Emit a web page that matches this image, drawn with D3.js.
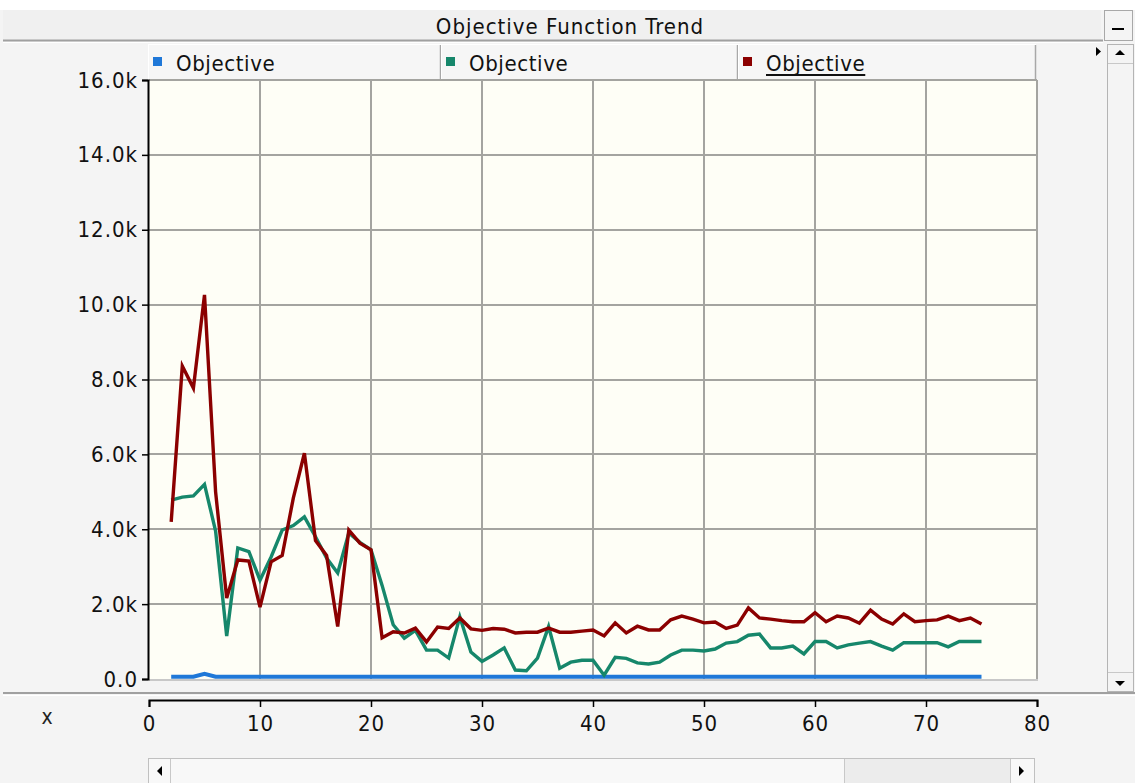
<!DOCTYPE html>
<html><head><meta charset="utf-8">
<script src="https://cdn.jsdelivr.net/npm/d3@7"></script>
<style>html,body{margin:0;padding:0;background:#f4f4f4;overflow:hidden}svg{display:block}</style>
</head><body><svg id="c" width="1135" height="783"></svg>
<script>
const chartTitle = "Objective Function Trend";
const xLabel = "x";
const seriesNames = ["Objective", "Objective", "Objective"];
const seriesColors = ["#1f78d8", "#16876b", "#8b0000"];
const xValues = [2,3,4,5,6,7,8,9,10,11,12,13,14,15,16,17,18,19,20,21,22,23,24,25,26,27,28,29,30,31,32,33,34,35,36,37,38,39,40,41,42,43,44,45,46,47,48,49,50,51,52,53,54,55,56,57,58,59,60,61,62,63,64,65,66,67,68,69,70,71,72,73,74,75];
// values in thousands
const blueValues = [0.06,0.06,0.06,0.14,0.06,0.06,0.06,0.06,0.06,0.06,0.06,0.06,0.06,0.06,0.06,0.06,0.06,0.06,0.06,0.06,0.06,0.06,0.06,0.06,0.06,0.06,0.06,0.06,0.06,0.06,0.06,0.06,0.06,0.06,0.06,0.06,0.06,0.06,0.06,0.06,0.06,0.06,0.06,0.06,0.06,0.06,0.06,0.06,0.06,0.06,0.06,0.06,0.06,0.06,0.06,0.06,0.06,0.06,0.06,0.06,0.06,0.06,0.06,0.06,0.06,0.06,0.06,0.06,0.06,0.06,0.06,0.06,0.06,0.06];
const greenValues = [4.78,4.86,4.89,5.2,3.95,1.15,3.5,3.4,2.64,3.26,3.98,4.1,4.33,3.8,3.23,2.83,3.9,3.65,3.45,2.5,1.45,1.09,1.3,0.77,0.77,0.56,1.66,0.72,0.47,0.64,0.83,0.24,0.22,0.56,1.4,0.29,0.45,0.5,0.5,0.1,0.58,0.55,0.43,0.4,0.45,0.64,0.77,0.77,0.75,0.8,0.96,1.0,1.17,1.2,0.83,0.83,0.88,0.67,1.0,1.0,0.83,0.91,0.96,1.0,0.88,0.77,0.97,0.97,0.97,0.97,0.86,1.0,1.0,1.0];
const redValues = [4.2,8.36,7.77,10.26,5.0,2.16,3.18,3.15,1.92,3.13,3.3,4.83,6.03,3.7,3.3,1.4,3.98,3.63,3.45,1.1,1.26,1.23,1.36,0.99,1.39,1.35,1.63,1.34,1.3,1.35,1.33,1.23,1.25,1.25,1.36,1.25,1.25,1.28,1.31,1.15,1.5,1.23,1.41,1.31,1.31,1.58,1.68,1.6,1.5,1.52,1.35,1.44,1.9,1.63,1.6,1.56,1.53,1.53,1.77,1.53,1.68,1.63,1.49,1.84,1.6,1.47,1.74,1.53,1.56,1.58,1.68,1.56,1.63,1.47];
const yTicks = [0,2,4,6,8,10,12,14,16];
const yTickLabels = ["0.0","2.0k","4.0k","6.0k","8.0k","10.0k","12.0k","14.0k","16.0k"];
const xTicks = [0,10,20,30,40,50,60,70,80];

const FONT = "'DejaVu Sans Condensed','DejaVu Sans',sans-serif";
const svg = d3.select("#c");
const W = 1135, H = 783;
const L = 149, R = 1037, T = 80, B = 679;

const x = d3.scaleLinear().domain([0, 80]).range([L, R]);
const y = d3.scaleLinear().domain([0, 16]).range([B, T]);

// backgrounds
svg.append("rect").attr("width", W).attr("height", H).attr("fill", "#f4f4f4");
svg.append("rect").attr("width", W).attr("height", 10).attr("fill", "#ffffff");

// title bar
svg.append("rect").attr("x", 3).attr("y", 10).attr("width", 1098).attr("height", 30).attr("fill", "#f0f0f0");
svg.append("line").attr("x1", 3).attr("x2", 1103).attr("y1", 40.5).attr("y2", 40.5).attr("stroke", "#a0a0a0").attr("stroke-width", 2);
svg.append("line").attr("x1", 3).attr("x2", 1103).attr("y1", 42.5).attr("y2", 42.5).attr("stroke", "#ffffff").attr("stroke-width", 1);
svg.append("text").attr("x", 570).attr("y", 26).attr("text-anchor", "middle").attr("dominant-baseline", "central")
  .attr("font-family", FONT).attr("font-size", 22).attr("letter-spacing", 1).attr("fill", "#111").text(chartTitle);

// minimize button
svg.append("rect").attr("x", 1104.5).attr("y", 10.5).attr("width", 28).attr("height", 30).attr("fill", "#f4f4f4").attr("stroke", "#a8a8a8");
svg.append("line").attr("x1", 1112).attr("x2", 1124).attr("y1", 29).attr("y2", 29).attr("stroke", "#000").attr("stroke-width", 2);

// right scrollbar
svg.append("rect").attr("x", 1107.5).attr("y", 44.5).attr("width", 26).attr("height", 647).attr("fill", "#f4f4f4").attr("stroke", "#b4b4b4");
svg.append("line").attr("x1", 1108).attr("x2", 1133).attr("y1", 63.5).attr("y2", 63.5).attr("stroke", "#c8c8c8");
svg.append("line").attr("x1", 1108).attr("x2", 1133).attr("y1", 672.5).attr("y2", 672.5).attr("stroke", "#c8c8c8");
svg.append("path").attr("d", "M1115,55 L1125,55 L1120,50 Z").attr("fill", "#000");
svg.append("path").attr("d", "M1115,681 L1125,681 L1120,686 Z").attr("fill", "#000");
svg.append("path").attr("d", "M1096,47 L1101,51.5 L1096,56 Z").attr("fill", "#000");

// legend
const legendX = [148, 441, 738, 1036];
const lg = svg.append("g");
seriesNames.forEach((name, i) => {
  const x0 = legendX[i], x1 = legendX[i + 1];
  lg.append("rect").attr("x", x0 + 0.5).attr("y", 44.5).attr("width", x1 - x0 - 1).attr("height", 35).attr("fill", "#f6f6f6").attr("stroke", "#ffffff");
  lg.append("line").attr("x1", x1 - 0.5).attr("x2", x1 - 0.5).attr("y1", 45).attr("y2", 79).attr("stroke", "#a8a8a8").attr("stroke-width", 1.5);
  lg.append("rect").attr("x", x0 + 5).attr("y", 57).attr("width", 9).attr("height", 9).attr("fill", seriesColors[i]);
  const t = lg.append("text").attr("x", x0 + 28).attr("y", 63).attr("dominant-baseline", "central")
    .attr("font-family", FONT).attr("font-size", 22).attr("letter-spacing", 0.6).attr("fill", "#111").text(name);
  if (i === 2) {
    const bb = t.node().getBBox();
    lg.append("line").attr("x1", bb.x).attr("x2", bb.x + bb.width).attr("y1", 75).attr("y2", 75).attr("stroke", "#111").attr("stroke-width", 2);
  }
});

// plot background
svg.append("rect").attr("x", L).attr("y", T).attr("width", R - L).attr("height", B - T).attr("fill", "#fefef6");

// gridlines
const grid = svg.append("g").attr("stroke", "#a4a4a0").attr("stroke-width", 2).attr("shape-rendering", "crispEdges");
grid.selectAll(".gy").data(yTicks.filter(d => d > 0)).join("line")
  .attr("x1", L).attr("x2", R).attr("y1", d => y(d)).attr("y2", d => y(d));
grid.selectAll(".gx").data(xTicks.filter(d => d > 0)).join("line")
  .attr("y1", T).attr("y2", B).attr("x1", d => x(d)).attr("x2", d => x(d));
svg.append("line").attr("x1", L).attr("x2", R + 1).attr("y1", B + 1).attr("y2", B + 1).attr("stroke", "#c8c8c8").attr("stroke-width", 2);

// y axis
const yAxis = d3.axisLeft(y).tickValues(yTicks).tickFormat((d, i) => yTickLabels[i]).tickSize(6).tickPadding(4);
const ya = svg.append("g").attr("transform", `translate(${L - 1},0)`).call(yAxis);
ya.select(".domain").attr("stroke", "#000").attr("stroke-width", 2);
ya.selectAll(".tick line").attr("stroke", "#000").attr("stroke-width", 1.5);
ya.selectAll(".tick text").attr("font-family", FONT).attr("font-size", 22).attr("letter-spacing", 1).attr("fill", "#111");

// lines
const allSeries = [blueValues, greenValues, redValues];
const widths = [4, 3.4, 3.4];
const line = d3.line().x(d => x(d[0])).y(d => y(d[1])).curve(d3.curveLinear);
allSeries.forEach((vals, i) => {
  svg.append("path").datum(xValues.map((xv, j) => [xv, vals[j]]))
    .attr("d", line).attr("fill", "none").attr("stroke", seriesColors[i]).attr("stroke-width", widths[i])
    .attr("stroke-linejoin", "miter");
});

// separator above x axis panel
svg.append("line").attr("x1", 3).attr("x2", 1135).attr("y1", 693).attr("y2", 693).attr("stroke", "#a0a0a0").attr("stroke-width", 2);
svg.append("line").attr("x1", 3).attr("x2", 1135).attr("y1", 695.5).attr("y2", 695.5).attr("stroke", "#ffffff").attr("stroke-width", 1);

// x axis
const xAxis = d3.axisBottom(x).tickValues(xTicks).tickFormat(d3.format("d")).tickSize(7).tickPadding(8);
const xa = svg.append("g").attr("transform", "translate(0,700)").call(xAxis);
xa.select(".domain").attr("stroke", "#000").attr("stroke-width", 2);
xa.selectAll(".tick line").attr("stroke", "#000").attr("stroke-width", 1.5);
xa.selectAll(".tick text").attr("font-family", FONT).attr("font-size", 22).attr("letter-spacing", 1).attr("fill", "#111");
svg.append("text").attr("x", 47).attr("y", 717).attr("text-anchor", "middle").attr("dominant-baseline", "central")
  .attr("font-family", FONT).attr("font-size", 21).attr("fill", "#222").text(xLabel);

// bottom scrollbar
svg.append("rect").attr("x", 148.5).attr("y", 758.5).attr("width", 886).attr("height", 30).attr("fill", "#f8f8f8").attr("stroke", "#c0c0c0");
svg.append("rect").attr("x", 844).attr("y", 759).attr("width", 166).attr("height", 29).attr("fill", "#ececec");
[170.5, 844.5, 1010.5].forEach(v => svg.append("line").attr("x1", v).attr("x2", v).attr("y1", 759).attr("y2", 783).attr("stroke", "#c8c8c8"));
svg.append("path").attr("d", "M162,766 L162,776 L157,771 Z").attr("fill", "#000");
svg.append("path").attr("d", "M1019,766 L1019,776 L1024,771 Z").attr("fill", "#000");
</script></body></html>
